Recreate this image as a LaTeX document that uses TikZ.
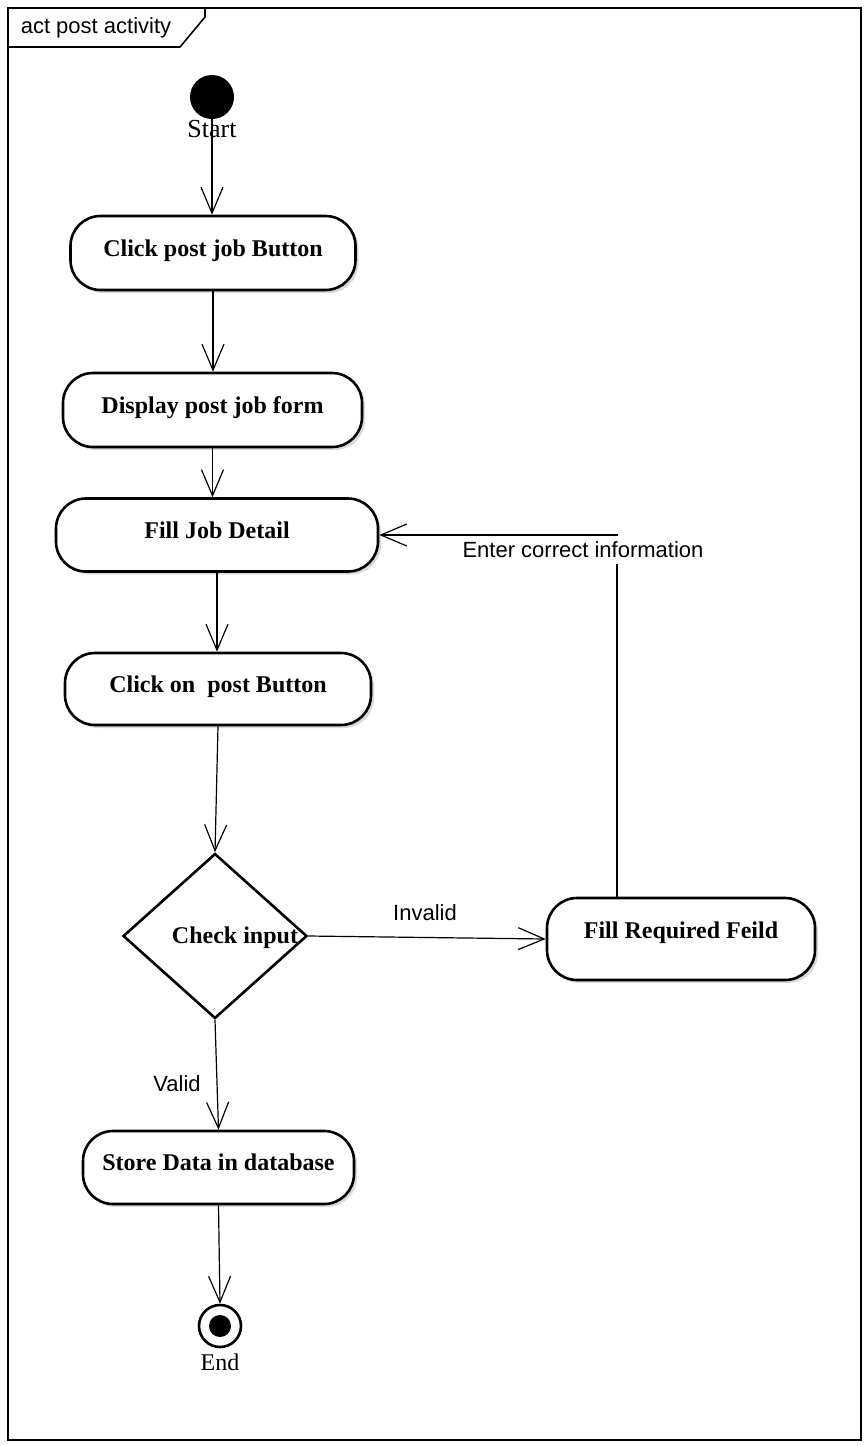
\documentclass[tikz,border=0pt]{standalone}
\usepackage{fontspec}
\setmainfont{Liberation Serif}
\setsansfont{Liberation Sans}
\usepackage{tikz}
\usetikzlibrary{arrows.meta,shapes.geometric,shadows}

\tikzset{
	activity/.style={draw=black, line width=1.3pt, rounded corners=15pt, fill=white,
		minimum height=37pt, text height=8pt, text depth=5pt,
		font=\fontsize{12}{14}\selectfont\bfseries,
		drop shadow={shadow xshift=1.5pt, shadow yshift=-1.5pt, opacity=0.3}},
	decision/.style={shape=diamond, draw=black, line width=1.3pt, fill=white,
		minimum width=92pt, minimum height=82.5pt, inner sep=0pt},
	flow/.style={line width=0.6pt, -{Straight Barb[length=13pt,width=11pt]}},
	guard/.style={font=\sffamily\fontsize{11}{13}\selectfont},
}

\begin{document}
\begin{tikzpicture}[x=0.5pt, y=-0.5pt]
	\useasboundingbox (0,0) rectangle (867,1446);

	\draw[line width=0.8pt] (8,8) rectangle (861,1440);
	\draw[line width=0.8pt] (8,47) -- (180,47) -- (205,17) -- (205,8);
	\node[guard] (frame) at (96,28) {act post activity};

	\node[shape=circle, fill=black, minimum size=22pt, inner sep=0pt,
		label={[label distance=-3pt, font=\fontsize{13}{15}\selectfont]below:Start}] (start) at (212,97) {};
	\node[activity, minimum width=142.5pt] (click) at (213,253) {Click post job Button};
	\node[activity, minimum width=149.5pt] (display) at (212.5,410) {Display post job form};
	\node[activity, minimum width=161pt, minimum height=36.5pt] (fill) at (217,535) {Fill Job Detail};
	\node[activity, minimum width=153pt, minimum height=36pt] (post) at (218,689) {Click on~~post Button};
	\node[decision] (check) at (215,936) {};
	\node[font=\fontsize{12}{14}\selectfont\bfseries] (checktext) at (235,938) {Check input};
	\node[activity, minimum width=134pt, minimum height=41pt, text depth=9pt] (required) at (681,939) {Fill Required Feild};
	\node[activity, minimum width=135.5pt, minimum height=36.5pt] (store) at (218.5,1167.5) {Store Data in database};
	\node[shape=circle, draw=black, line width=1.3pt, fill=white, minimum size=21pt, inner sep=0pt,
		path picture={\fill[black] (path picture bounding box.center) circle (5.5pt);},
		label={[label distance=-1pt, font=\fontsize{12}{14}\selectfont]below:End}] (end) at (220,1326) {};

	\path[flow] (start) edge (start |- click.north);
	\path[flow] (click) edge (click.south |- display.north);
	\path[flow] (display) edge (display.south |- fill.north);
	\path[flow] (fill) edge (fill.south |- post.north);
	\path[flow] (post.south) edge (check.north);
	\path[flow] (check.east) edge (required.west);
	\path[flow] (check.south) edge (store.north);
	\path[flow] (store.south) edge (end.north);
	\draw[flow] ([xshift=-32pt]required.north) |- (fill.east);

	\node[guard] (invalid) at (425,913) {Invalid};
	\node[guard] (valid) at (177,1084) {Valid};
	\node[guard, fill=white, inner xsep=1pt, inner ysep=3pt] (enter) at (583,550) {Enter correct information};

\end{tikzpicture}
\end{document}
